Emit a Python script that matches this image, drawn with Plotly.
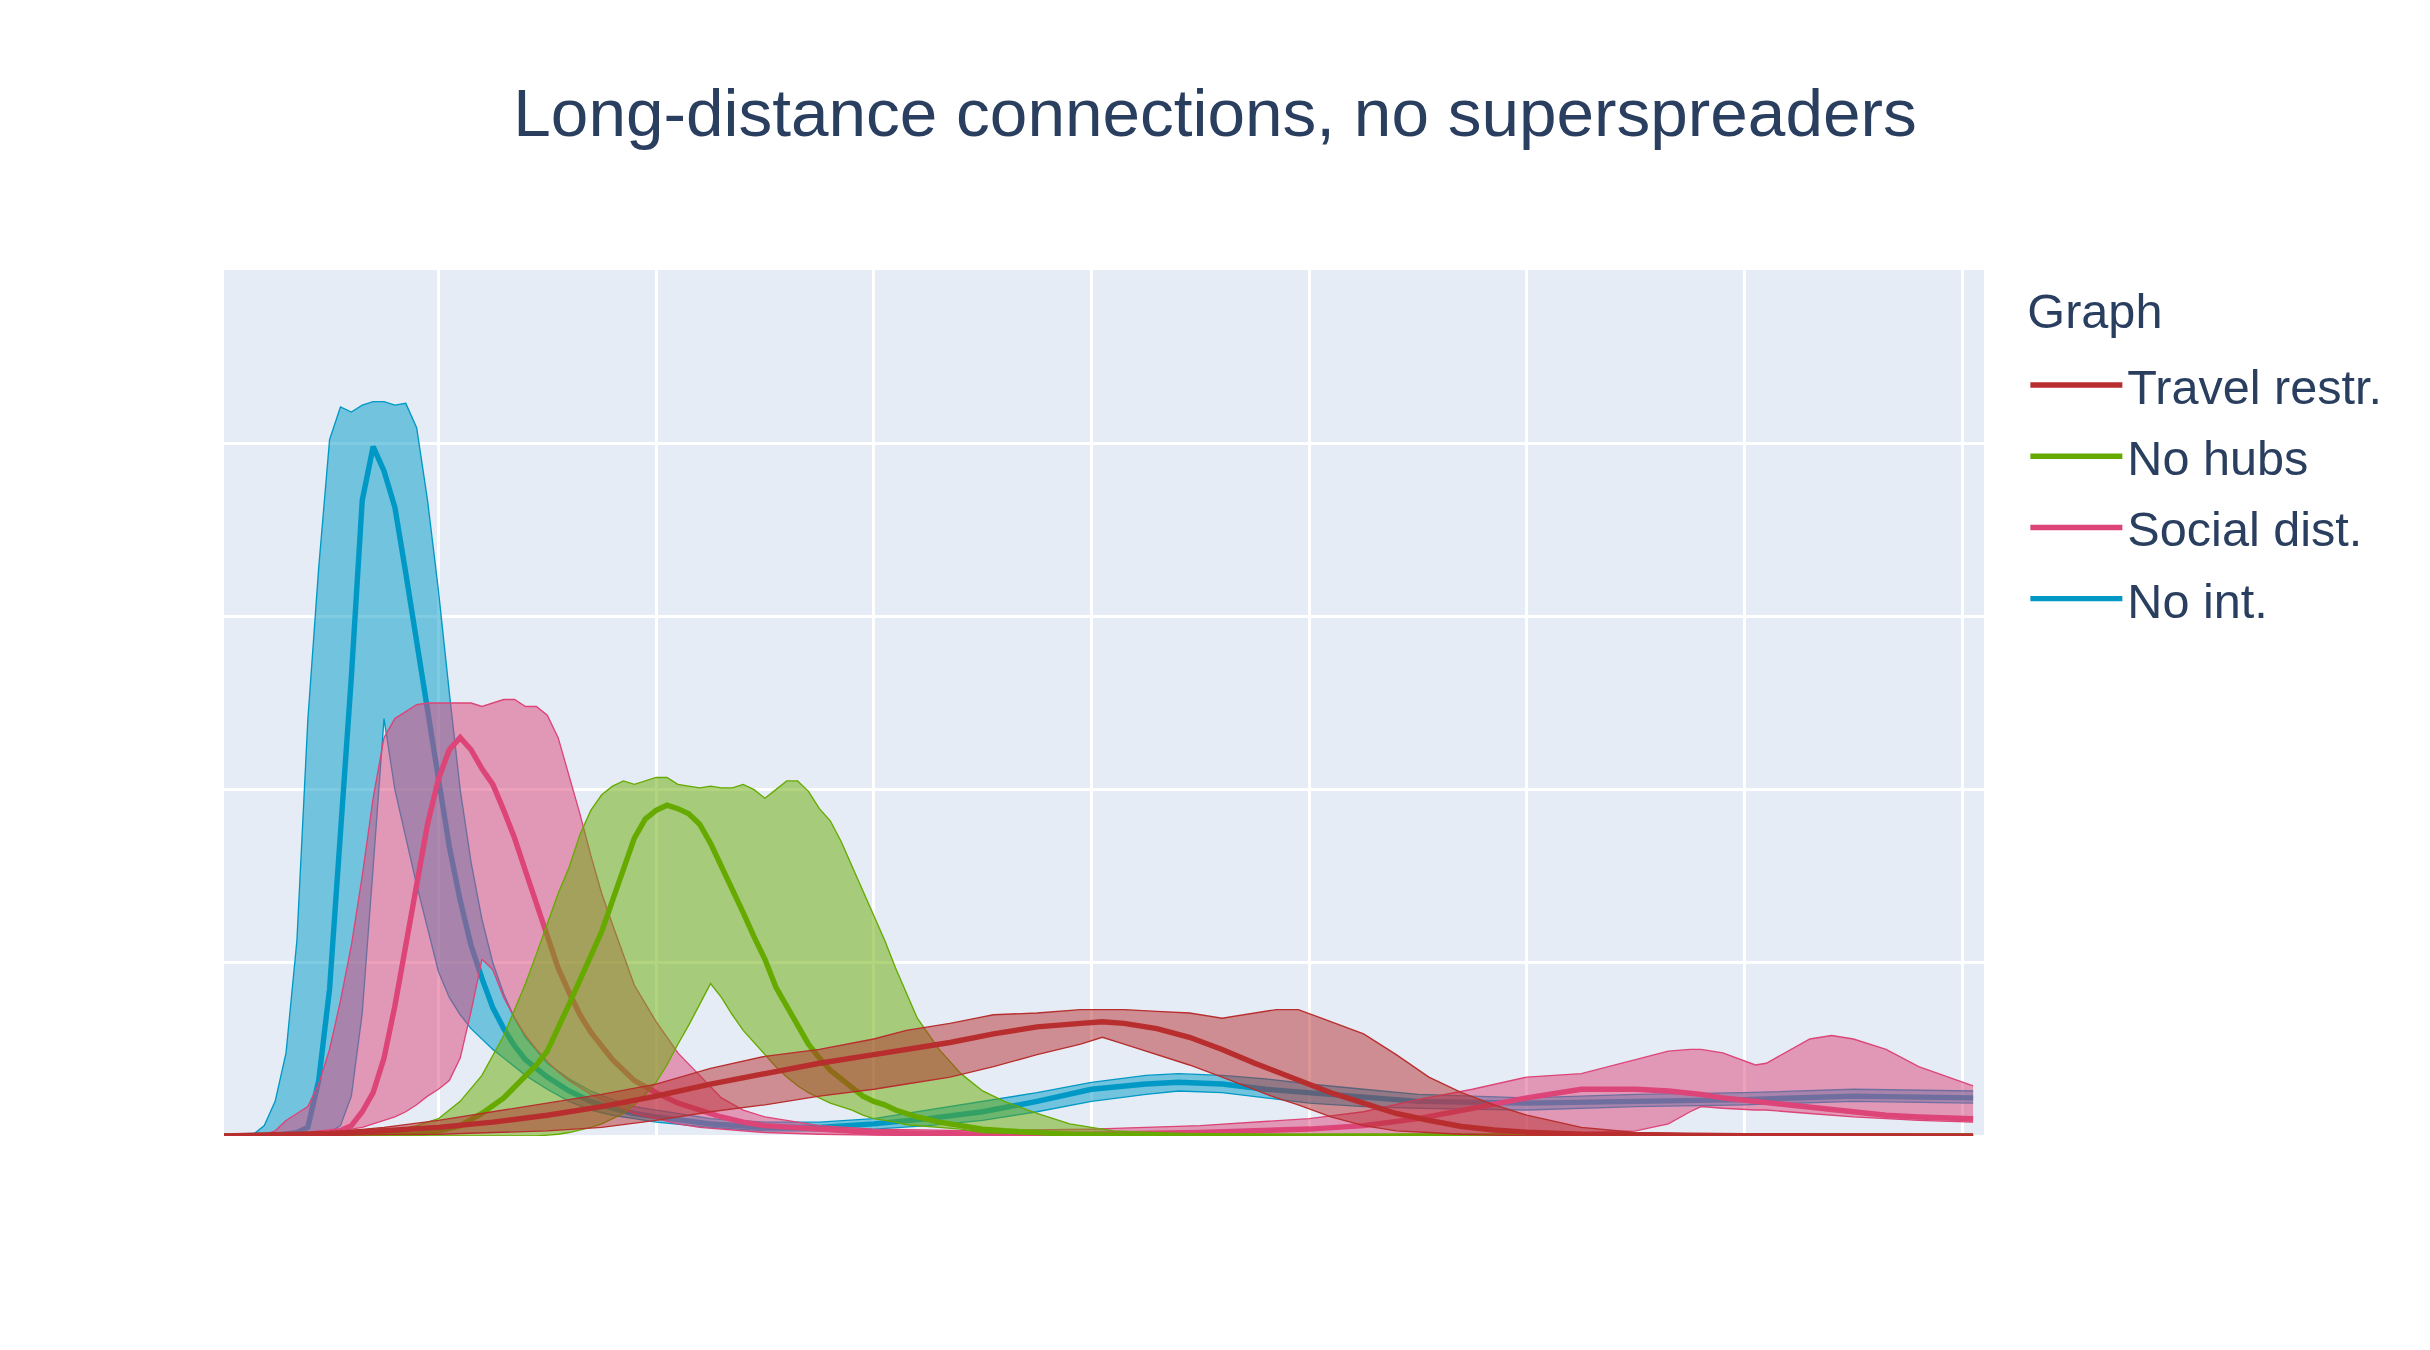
import plotly.graph_objects as go

# ---------------- data (y in gridline units, x in days) ----------------
TITLE = "Long-distance connections, no superspreaders"
LEGEND_TITLE = "Graph"
NAMES = ["No int.", "Social dist.", "No hubs", "Travel restr."]
LEGEND_RANKS = [4, 3, 2, 1]
COLORS = ["#0099C6", "#DD4477", "#66AA00", "#B82E2E"]
FILLS = ["rgba(0,153,198,0.5)", "rgba(221,68,119,0.5)", "rgba(102,170,0,0.5)", "rgba(184,46,46,0.5)"]

NOINT_T = [0, 2, 3, 4, 5, 6, 7, 8, 9, 10, 11, 12, 13, 14, 15, 16, 17, 18, 19, 20, 21, 22, 23, 24, 25, 26, 27, 28,
           30, 32, 34, 36, 38, 40, 45, 50, 55, 60, 65, 70, 75, 80, 85, 88, 92, 96, 100, 105, 110, 120, 130, 140, 150, 161]
NOINT_HIGH = [0, 0, 0.01, 0.06, 0.2, 0.48, 1.13, 2.4, 3.28, 4.02, 4.21, 4.18, 4.22, 4.24, 4.24, 4.22, 4.23, 4.09, 3.67,
              3.15, 2.56, 2.0, 1.58, 1.25, 1.0, 0.82, 0.68, 0.57, 0.42, 0.33, 0.26, 0.21, 0.17, 0.15, 0.10, 0.08, 0.08,
              0.10, 0.15, 0.20, 0.25, 0.31, 0.35, 0.36, 0.35, 0.33, 0.30, 0.27, 0.24, 0.22, 0.24, 0.25, 0.27, 0.26]
NOINT_MEAN = [0, 0, 0, 0, 0.005, 0.01, 0.02, 0.05, 0.32, 0.85, 1.7, 2.65, 3.67, 3.98, 3.84, 3.63, 3.25, 2.85, 2.43,
              2.03, 1.67, 1.36, 1.10, 0.91, 0.74, 0.62, 0.52, 0.44, 0.34, 0.26, 0.2, 0.16, 0.13, 0.11, 0.07, 0.05, 0.05,
              0.07, 0.10, 0.14, 0.20, 0.27, 0.30, 0.31, 0.30, 0.27, 0.25, 0.22, 0.20, 0.19, 0.20, 0.21, 0.23, 0.22]
NOINT_LOW = [0, 0, 0, 0, 0, 0, 0, 0.005, 0.01, 0.02, 0.06, 0.23, 0.71, 1.55, 2.41, 2.0, 1.72, 1.45, 1.2, 0.95, 0.8,
             0.7, 0.62, 0.56, 0.5, 0.45, 0.4, 0.35, 0.27, 0.2, 0.15, 0.12, 0.1, 0.08, 0.05, 0.03, 0.03, 0.04, 0.06,
             0.09, 0.14, 0.20, 0.24, 0.26, 0.25, 0.22, 0.19, 0.17, 0.16, 0.15, 0.17, 0.18, 0.20, 0.19]

SOCIAL_T = [0, 4, 5, 6, 7, 8, 9, 10, 11, 12, 13, 14, 15, 16, 17, 18, 19, 20, 21, 22, 23, 24, 25, 26, 27, 28, 29, 30,
            31, 32, 33, 34, 35, 36, 38, 40, 42, 44, 46, 48, 50, 55, 60, 70, 80, 90, 100, 105, 110, 115, 120, 125, 130,
            133, 135, 136, 138, 141, 142, 146, 148, 150, 153, 156, 161]
SOCIAL_HIGH = [0, 0.01, 0.03, 0.09, 0.13, 0.17, 0.3, 0.5, 0.78, 1.1, 1.5, 1.95, 2.3, 2.41, 2.45, 2.49, 2.5, 2.5, 2.5,
               2.5, 2.5, 2.48, 2.5, 2.52, 2.52, 2.48, 2.48, 2.43, 2.3, 2.08, 1.86, 1.62, 1.4, 1.22, 0.87, 0.66, 0.48,
               0.35, 0.22, 0.15, 0.11, 0.06, 0.04, 0.03, 0.04, 0.06, 0.10, 0.14, 0.21, 0.27, 0.34, 0.36, 0.44, 0.49,
               0.50, 0.50, 0.48, 0.41, 0.42, 0.56, 0.58, 0.56, 0.5, 0.4, 0.29]
SOCIAL_MEAN = [0, 0, 0, 0, 0.005, 0.01, 0.015, 0.02, 0.03, 0.06, 0.14, 0.25, 0.45, 0.75, 1.1, 1.45, 1.8, 2.06, 2.23,
               2.30, 2.23, 2.12, 2.03, 1.88, 1.72, 1.53, 1.34, 1.14, 0.97, 0.83, 0.70, 0.60, 0.52, 0.44, 0.32, 0.25,
               0.19, 0.15, 0.11, 0.08, 0.06, 0.04, 0.02, 0.01, 0.01, 0.02, 0.04, 0.06, 0.10, 0.16, 0.22, 0.27, 0.27,
               0.26, 0.25, 0.24, 0.22, 0.2, 0.19, 0.16, 0.15, 0.14, 0.12, 0.11, 0.10]
SOCIAL_LOW = [0, 0, 0, 0, 0, 0.005, 0.01, 0.02, 0.03, 0.04, 0.05, 0.07, 0.09, 0.11, 0.14, 0.18, 0.23, 0.27, 0.32,
              0.45, 0.72, 1.02, 0.96, 0.8, 0.68, 0.58, 0.5, 0.43, 0.37, 0.32, 0.28, 0.24, 0.21, 0.18, 0.13, 0.1, 0.07,
              0.05, 0.04, 0.03, 0.02, 0.01, 0.005, 0, 0, 0, 0, 0.005, 0.01, 0.01, 0.02, 0.02, 0.03, 0.07, 0.14, 0.17,
              0.16, 0.15, 0.15, 0.13, 0.12, 0.11, 0.1, 0.09, 0.08]

HUBS_T = [0, 10, 12, 15, 18, 20, 22, 24, 26, 28, 29, 30, 31, 32, 33, 34, 35, 36, 37, 38, 39, 40, 41, 42, 43, 44, 45,
          46, 47, 48, 49, 50, 51, 52, 53, 54, 55, 56, 57, 58, 59, 60, 61, 62, 63, 64, 66, 68, 70, 72, 75, 78, 82, 90,
          100, 161]
HUBS_HIGH = [0, 0, 0.005, 0.02, 0.06, 0.1, 0.2, 0.35, 0.58, 0.88, 1.05, 1.22, 1.4, 1.55, 1.74, 1.88, 1.97, 2.02, 2.05,
             2.03, 2.05, 2.07, 2.07, 2.03, 2.02, 2.01, 2.02, 2.01, 2.01, 2.03, 2.0, 1.95, 2.0, 2.05, 2.05, 1.99, 1.89,
             1.82, 1.70, 1.56, 1.41, 1.27, 1.13, 0.97, 0.82, 0.68, 0.5, 0.36, 0.26, 0.2, 0.13, 0.07, 0.03, 0.01, 0, 0]
HUBS_MEAN = [0, 0, 0, 0.005, 0.01, 0.03, 0.06, 0.13, 0.22, 0.34, 0.41, 0.49, 0.62, 0.76, 0.90, 1.05, 1.18, 1.36, 1.55,
             1.72, 1.83, 1.88, 1.91, 1.89, 1.86, 1.80, 1.69, 1.56, 1.43, 1.29, 1.15, 1.02, 0.86, 0.75, 0.64, 0.53, 0.45,
             0.38, 0.33, 0.28, 0.23, 0.20, 0.18, 0.15, 0.13, 0.11, 0.08, 0.06, 0.04, 0.03, 0.02, 0.01, 0.005, 0, 0, 0]
HUBS_LOW = [0, 0, 0, 0, 0, 0, 0, 0, 0, 0, 0, 0.005, 0.01, 0.02, 0.035, 0.05, 0.07, 0.10, 0.13, 0.18, 0.24, 0.31, 0.41,
            0.53, 0.64, 0.76, 0.88, 0.80, 0.70, 0.61, 0.54, 0.47, 0.40, 0.34, 0.29, 0.25, 0.22, 0.19, 0.17, 0.15, 0.12,
            0.10, 0.09, 0.08, 0.065, 0.06, 0.05, 0.04, 0.02, 0.015, 0.01, 0.005, 0, 0, 0, 0]

TRAVEL_T = [0, 5, 10, 15, 20, 25, 30, 35, 40, 45, 50, 55, 60, 63, 67, 71, 75, 79, 81, 83, 86, 89, 92, 95, 97, 99, 102,
            105, 108, 111, 114, 117, 120, 125, 130, 140, 161]
TRAVEL_HIGH = [0, 0.005, 0.02, 0.05, 0.09, 0.14, 0.19, 0.24, 0.30, 0.39, 0.46, 0.50, 0.56, 0.61, 0.65, 0.70, 0.71,
               0.73, 0.73, 0.73, 0.72, 0.71, 0.68, 0.71, 0.73, 0.73, 0.66, 0.59, 0.47, 0.34, 0.25, 0.18, 0.12, 0.05,
               0.02, 0.005, 0]
TRAVEL_MEAN = [0, 0.005, 0.015, 0.03, 0.05, 0.08, 0.12, 0.17, 0.23, 0.30, 0.36, 0.42, 0.47, 0.50, 0.54, 0.59, 0.63,
               0.65, 0.66, 0.65, 0.62, 0.57, 0.50, 0.42, 0.37, 0.32, 0.25, 0.19, 0.13, 0.09, 0.055, 0.035, 0.022, 0.01,
               0.005, 0.002, 0]
TRAVEL_LOW = [0, 0, 0.003, 0.008, 0.01, 0.02, 0.03, 0.05, 0.09, 0.14, 0.18, 0.23, 0.27, 0.30, 0.34, 0.40, 0.47, 0.53,
              0.57, 0.53, 0.47, 0.41, 0.34, 0.27, 0.22, 0.18, 0.11, 0.06, 0.03, 0.02, 0.01, 0.005, 0, 0, 0, 0, 0]

# ---------------- figure ----------------
S = 2.7  # drawing scale
groups = [
    (NOINT_T, NOINT_LOW, NOINT_MEAN, NOINT_HIGH),
    (SOCIAL_T, SOCIAL_LOW, SOCIAL_MEAN, SOCIAL_HIGH),
    (HUBS_T, HUBS_LOW, HUBS_MEAN, HUBS_HIGH),
    (TRAVEL_T, TRAVEL_LOW, TRAVEL_MEAN, TRAVEL_HIGH),
]

fig = go.Figure()
for (t, lo, mean, hi), name, rank, col, fill in zip(groups, NAMES, LEGEND_RANKS, COLORS, FILLS):
    fig.add_trace(go.Scatter(x=t, y=lo, mode="lines", line=dict(color=col, width=0.5 * S),
                             showlegend=False, legendgroup=name, legendrank=rank, hoverinfo="skip"))
    fig.add_trace(go.Scatter(x=t, y=hi, mode="lines", line=dict(color=col, width=0.5 * S),
                             fill="tonexty", fillcolor=fill, showlegend=False, legendgroup=name,
                             legendrank=rank, hoverinfo="skip"))
    extra = {}
    if rank == 1:  # first legend entry: a little space under the legend title
        extra["legendgrouptitle"] = dict(text=" ", font=dict(size=2))
    fig.add_trace(go.Scatter(x=t, y=mean, mode="lines", name=name, legendgroup=name, legendrank=rank,
                             line=dict(color=col, width=2 * S), **extra))

W, H = 2414, 1334  # page body has an 8px margin
FONT = "Liberation Sans, Arial, sans-serif"
fig.update_layout(
    width=W, height=H,
    template="plotly",
    font=dict(family=FONT, size=18 * S, color="#2a3f5f"),
    title=dict(text=TITLE, x=0.5, xanchor="center", y=1 - 104 / H, yanchor="middle",
               font=dict(size=25 * S)),
    margin=dict(l=216, r=438, t=262, b=206),
    legend=dict(title=dict(text=LEGEND_TITLE, font=dict(size=18 * S)), itemwidth=92,
                traceorder="grouped", tracegroupgap=5,
                x=1.0235, y=1.006, xanchor="left", yanchor="top"),
    plot_bgcolor="#E5ECF6",
    paper_bgcolor="white",
)
fig.update_xaxes(range=[0.3, 162], tick0=0, dtick=20, showticklabels=False, ticks="",
                 gridcolor="white", gridwidth=S, zeroline=False)
fig.update_yaxes(range=[0, 5], tick0=0, dtick=1, showticklabels=False, ticks="",
                 gridcolor="white", gridwidth=S, zeroline=True, zerolinecolor="white", zerolinewidth=S)

fig.write_html("out.html")
